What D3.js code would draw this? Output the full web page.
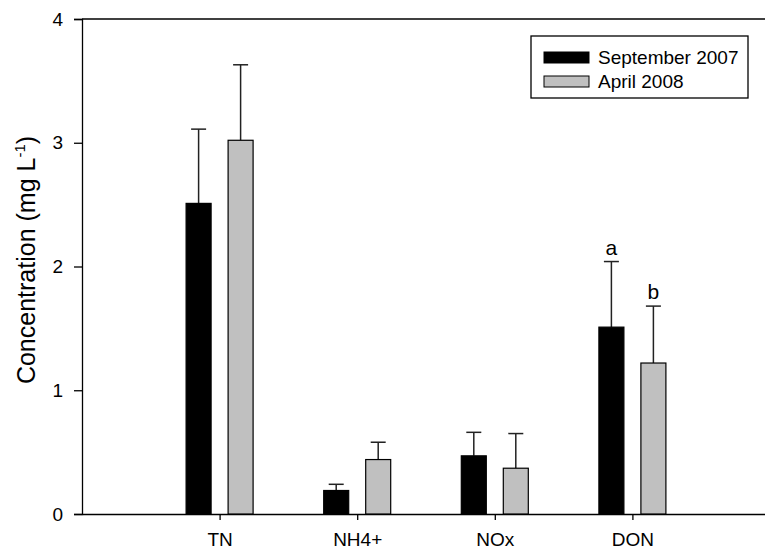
<!DOCTYPE html>
<html>
<head>
<meta charset="utf-8">
<script src="https://cdn.jsdelivr.net/npm/d3@7"></script>
<style>
  html, body { margin: 0; padding: 0; background: #fff; }
  svg { display: block; }
  text { font-family: "Liberation Sans", Arial, sans-serif; fill: #000; }
</style>
</head>
<body>
<svg id="chart" width="765" height="551"></svg>
<script>
// ---- data ----
const categories = ["TN", "NH4+", "NOx", "DON"];
const seriesNames = ["September 2007", "April 2008"];
const sept2007 = [2.51, 0.19, 0.47, 1.51];
const sept2007Err = [0.60, 0.05, 0.19, 0.53];
const april2008 = [3.02, 0.44, 0.37, 1.22];
const april2008Err = [0.61, 0.14, 0.28, 0.46];
const letters = [null, null, null, ["a", "b"]];
const yTicks = [0, 1, 2, 3, 4];

const series = [
  { name: seriesNames[0], values: sept2007, err: sept2007Err, fill: "#000000", offset: -1 },
  { name: seriesNames[1], values: april2008, err: april2008Err, fill: "#c0c0c0", offset: 1 }
];

const svg = d3.select("#chart");
const mLeft = 82, mRight = 770, mTop = 19, mBottom = 514;

const x = d3.scaleLinear().domain([0, categories.length + 1]).range([mLeft, mRight]);
const y = d3.scaleLinear().domain([0, 4]).range([mBottom, mTop]);

const barW = 25, barOff = 21, capW = 15;

// top frame line
svg.append("line").attr("x1", mLeft).attr("x2", 765).attr("y1", mTop).attr("y2", mTop)
  .attr("stroke", "#000").attr("stroke-width", 1.3);

// y axis
const yAxis = d3.axisLeft(y).tickValues(yTicks).tickFormat(d3.format("d")).tickSize(8).tickPadding(11);
const gy = svg.append("g").attr("transform", `translate(${mLeft},0)`).call(yAxis);
gy.select(".domain").attr("stroke", "#000").attr("stroke-width", 1.3);
gy.selectAll(".tick line").attr("stroke", "#000").attr("stroke-width", 1.3);
gy.selectAll(".tick text").attr("font-size", "19px").attr("font-family", "Liberation Sans, Arial, sans-serif").attr("fill", "#000");

// x axis
const xAxis = d3.axisBottom(x).tickValues(categories.map((c, i) => i + 1))
  .tickFormat((d) => categories[d - 1]).tickSize(6).tickSizeOuter(0).tickPadding(13);
const gx = svg.append("g").attr("transform", `translate(0,${mBottom})`).call(xAxis);
gx.select(".domain").attr("stroke", "#000").attr("stroke-width", 1.3);
gx.selectAll(".tick line").attr("stroke", "#000").attr("stroke-width", 1.3);
gx.selectAll(".tick text").attr("font-size", "19px").attr("font-family", "Liberation Sans, Arial, sans-serif").attr("fill", "#000");

// y axis title
const title = svg.append("text")
  .attr("transform", `translate(35,260) rotate(-90)`)
  .attr("text-anchor", "middle")
  .attr("font-size", "25px");
title.append("tspan").text("Concentration (mg L");
title.append("tspan").text("-1").attr("font-size", "15px").attr("dy", "-10");
title.append("tspan").text(")").attr("dy", "10");

// bars and error bars
series.forEach((s) => {
  const g = svg.append("g");
  categories.forEach((c, i) => {
    const cx = x(i + 1) + s.offset * barOff;
    g.append("line")
      .attr("x1", cx).attr("x2", cx)
      .attr("y1", y(s.values[i])).attr("y2", y(s.values[i] + s.err[i]))
      .attr("stroke", "#222").attr("stroke-width", 1.5);
    g.append("line")
      .attr("x1", cx - capW / 2).attr("x2", cx + capW / 2)
      .attr("y1", y(s.values[i] + s.err[i])).attr("y2", y(s.values[i] + s.err[i]))
      .attr("stroke", "#222").attr("stroke-width", 1.5);
    g.append("rect")
      .attr("x", cx - barW / 2).attr("width", barW)
      .attr("y", y(s.values[i])).attr("height", y(0) - y(s.values[i]))
      .attr("fill", s.fill).attr("stroke", "#000").attr("stroke-width", 1.2);
  });
});

// significance letters
letters.forEach((l, i) => {
  if (!l) return;
  series.forEach((s, k) => {
    svg.append("text")
      .attr("x", x(i + 1) + s.offset * barOff)
      .attr("y", y(s.values[i] + s.err[i]) - 7)
      .attr("text-anchor", "middle")
      .attr("font-size", "21px")
      .text(l[k]);
  });
});

// legend
const lg = svg.append("g");
lg.append("rect").attr("x", 531).attr("y", 36).attr("width", 217).attr("height", 62)
  .attr("fill", "#fff").attr("stroke", "#000").attr("stroke-width", 1.3);
series.forEach((s, k) => {
  const yy = 52 + k * 24;
  lg.append("rect").attr("x", 544).attr("y", yy).attr("width", 45).attr("height", 11)
    .attr("fill", s.fill).attr("stroke", "#000").attr("stroke-width", 1);
  lg.append("text").attr("x", 598).attr("y", yy + 12).attr("font-size", "19px").text(s.name);
});
</script>
</body>
</html>
